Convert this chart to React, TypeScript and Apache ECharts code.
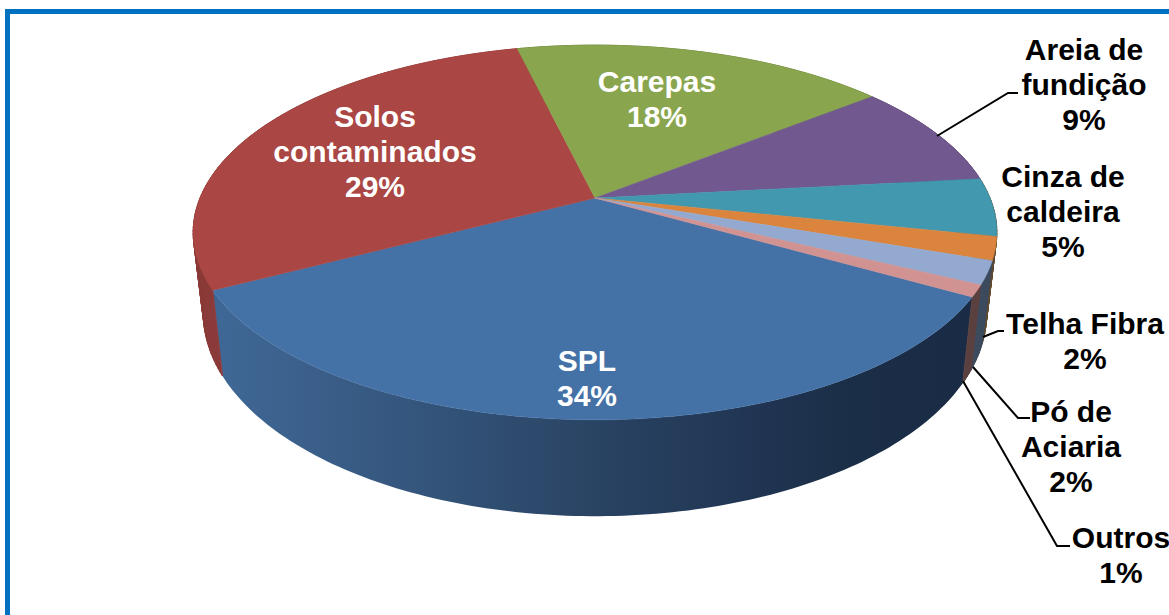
import React, { useEffect, useRef } from "react";
import * as echarts from "echarts";

// Waste composition, percent of total, clockwise from the front of the pie
const categories = [
  "SPL",
  "Solos\ncontaminados",
  "Carepas",
  "Areia de\nfundição",
  "Cinza de\ncaldeira",
  "Telha Fibra",
  "Pó de\nAciaria",
  "Outros",
];
const shares = [34, 29, 18, 9, 5, 2, 2, 1];

const faceColors = ["#4471A6", "#AA4643", "#89A54E", "#71588F", "#4198AF", "#DB843D", "#93A9CF", "#D19392"];
const wallColors = ["#2A4464", "#8A3A38", "#6D833E", "#5A4672", "#5F4A30", "#5F4A30", "#3C4A5E", "#5A3F3F"];

// Label anchors (centre of the text block) and leader lines
const labelAnchors: [number, number, string][] = [
  [587, 377.5, "#fff"],
  [375, 151.5, "#fff"],
  [657, 98.5, "#fff"],
  [1084, 84, "#000"],
  [1063, 211, "#000"],
  [1085, 340.5, "#000"],
  [1071, 446, "#000"],
  [1121, 554.5, "#000"],
];
const leaderLines: Record<number, [number, number][]> = {
  3: [[937, 136], [1008, 93], [1018, 93]],
  5: [[983, 337], [998, 331], [1004, 331]],
  6: [[973, 367], [1018, 418], [1030, 418]],
  7: [[963, 381], [1057, 546], [1070, 546]],
};

// Tilted disc projected with perspective: upper face and base plane
const START_DEG = 29.8;
const PERSPECTIVE = -0.184;
const CX = 595;
const TOP = { radius: 395, depth: 181, y0: 198 };
const BASE = { radius: 385, depth: 196, y0: 276 };

type Plane = { radius: number; depth: number; y0: number };

const project = (plane: Plane, deg: number): [number, number] => {
  const a = (deg * Math.PI) / 180;
  const w = 1 + PERSPECTIVE * Math.sin(a);
  return [CX + (plane.radius * Math.cos(a)) / w, plane.y0 + (plane.depth * Math.sin(a)) / w];
};

const total = shares.reduce((s, v) => s + v, 0);
const sliceSpan = (index: number): [number, number] => {
  const before = shares.slice(0, index).reduce((s, v) => s + v, 0);
  const from = START_DEG + (before / total) * 360;
  return [from, from + (shares[index] / total) * 360];
};

const arc = (plane: Plane, from: number, to: number): [number, number][] => {
  const steps = Math.max(2, Math.ceil(to - from));
  const pts: [number, number][] = [];
  for (let i = 0; i <= steps; i++) pts.push(project(plane, from + ((to - from) * i) / steps));
  return pts;
};

const frontWallFill = () =>
  new echarts.graphic.LinearGradient(
    227,
    0,
    962,
    0,
    [
      { offset: 0, color: "#3F6795" },
      { offset: 0.29, color: "#335379" },
      { offset: 0.49, color: "#2A4464" },
      { offset: 0.7, color: "#213654" },
      { offset: 0.85, color: "#1B2E47" },
      { offset: 1, color: "#1A2C45" },
    ],
    true
  );

export default function App() {
  const ref = useRef<HTMLDivElement>(null);

  useEffect(() => {
    const chart = echarts.init(ref.current!, undefined, { renderer: "svg" });
    const font = { fontFamily: "Liberation Sans, Arial, sans-serif", fontWeight: "bold" as const, fontSize: 30, lineHeight: 35 };

    chart.setOption({
      animation: false,
      backgroundColor: "#fff",
      graphic: [
        {
          type: "rect",
          silent: true,
          shape: { x: 7.5, y: 11.5, width: 1300, height: 800 },
          style: { fill: "none", stroke: "#0070C0", lineWidth: 5 },
        },
      ],
      series: [
        {
          // Side wall. The front slice is one shaded band; the others are strips of
          // quads so the outline runs straight from the upper face to the base.
          // The faces drawn afterwards hide the rear part.
          type: "custom",
          coordinateSystem: "none",
          silent: true,
          z: 2,
          data: shares,
          renderItem: (params: any) => {
            const [from, to] = sliceSpan(params.dataIndex);
            const upper = arc(TOP, from, to);
            const lower = arc(BASE, from, to);
            if (params.dataIndex === 0) {
              return {
                type: "polygon",
                shape: { points: [...upper, ...lower.slice().reverse()] },
                style: { fill: frontWallFill() },
              };
            }
            const fill = wallColors[params.dataIndex];
            const children = upper.slice(1).map((p, i) => ({
              type: "polygon",
              shape: { points: [upper[i], p, lower[i + 1], lower[i]] },
              style: { fill, stroke: fill, lineWidth: 1 },
            }));
            return { type: "group", children };
          },
        },
        {
          // Upper faces of the slices
          type: "custom",
          coordinateSystem: "none",
          silent: true,
          z: 3,
          data: shares,
          renderItem: (params: any) => {
            const [from, to] = sliceSpan(params.dataIndex);
            const fill = faceColors[params.dataIndex];
            return {
              type: "polygon",
              shape: { points: [[CX, TOP.y0], ...arc(TOP, from, to)] },
              style: { fill, stroke: fill, lineWidth: 0.5 },
            };
          },
        },
        {
          // Category names with their percentages, and leader lines
          type: "custom",
          coordinateSystem: "none",
          silent: true,
          z: 4,
          data: shares,
          renderItem: (params: any, api: any) => {
            const i = params.dataIndex;
            const [x, y, color] = labelAnchors[i];
            const children: any[] = [
              {
                type: "text",
                style: {
                  x,
                  y,
                  text: `${categories[i]}\n${api.value(0)}%`,
                  align: "center",
                  verticalAlign: "middle",
                  fill: color,
                  ...font,
                },
              },
            ];
            if (leaderLines[i]) {
              children.push({
                type: "polyline",
                shape: { points: leaderLines[i] },
                style: { fill: "none", stroke: "#000", lineWidth: 2 },
              });
            }
            return { type: "group", children };
          },
        },
      ],
    });

    return () => chart.dispose();
  }, []);

  return (
    <div
      ref={ref}
      style={{ position: "fixed", left: 0, top: 0, width: 1169, height: 615, background: "#fff" }}
    />
  );
}
